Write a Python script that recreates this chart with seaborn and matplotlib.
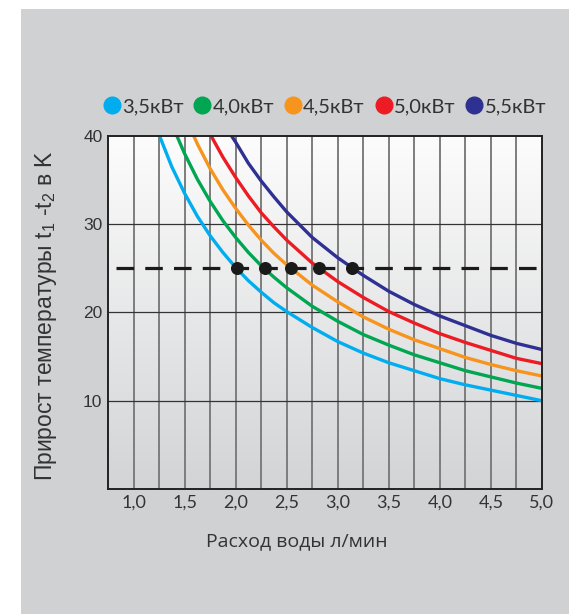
import numpy as np
import pandas as pd
import matplotlib.pyplot as plt
import seaborn as sns
from matplotlib.lines import Line2D
from matplotlib.patches import Rectangle

# Values (flow l/min -> temperature rise K)
labels = ['3,5кВт', '4,0кВт', '4,5кВт', '5,0кВт', '5,5кВт']
colors = ['#00aeef', '#00a651', '#f7941d', '#ed1c24', '#2e3192']

x_35 = [1.255, 1.375, 1.5, 1.625, 1.75, 1.875, 2.0, 2.125, 2.25, 2.375, 2.5, 2.75, 3.0, 3.25, 3.5, 3.75, 4.0, 4.25, 4.5, 4.75, 5.0]
y_35 = [40.0, 36.5, 33.5, 30.9, 28.7, 26.8, 25.1, 23.6, 22.3, 21.1, 20.1, 18.3, 16.7, 15.4, 14.3, 13.4, 12.5, 11.8, 11.2, 10.6, 10.0]

x_40 = [1.425, 1.5, 1.625, 1.75, 1.875, 2.0, 2.125, 2.25, 2.375, 2.5, 2.75, 3.0, 3.25, 3.5, 3.75, 4.0, 4.25, 4.5, 4.75, 5.0]
y_40 = [40.0, 38.0, 35.1, 32.6, 30.4, 28.5, 26.8, 25.3, 24.0, 22.8, 20.7, 19.0, 17.5, 16.3, 15.2, 14.3, 13.4, 12.7, 12.0, 11.4]

x_45 = [1.59, 1.625, 1.75, 1.875, 2.0, 2.125, 2.25, 2.375, 2.5, 2.75, 3.0, 3.25, 3.5, 3.75, 4.0, 4.25, 4.5, 4.75, 5.0]
y_45 = [40.0, 39.1, 36.3, 33.9, 31.8, 29.9, 28.2, 26.7, 25.4, 23.1, 21.2, 19.5, 18.1, 16.9, 15.9, 14.9, 14.1, 13.4, 12.8]

x_50 = [1.76, 1.875, 2.0, 2.125, 2.25, 2.375, 2.5, 2.75, 3.0, 3.25, 3.5, 3.75, 4.0, 4.25, 4.5, 4.75, 5.0]
y_50 = [40.0, 37.6, 35.3, 33.2, 31.3, 29.7, 28.2, 25.6, 23.5, 21.7, 20.1, 18.8, 17.6, 16.6, 15.7, 14.8, 14.2]

x_55 = [1.96, 2.0, 2.125, 2.25, 2.375, 2.5, 2.75, 3.0, 3.25, 3.5, 3.75, 4.0, 4.25, 4.5, 4.75, 5.0]
y_55 = [40.0, 39.3, 36.9, 34.9, 33.1, 31.4, 28.5, 26.2, 24.2, 22.4, 20.9, 19.6, 18.5, 17.4, 16.5, 15.8]

dot_x = [2.01, 2.29, 2.54, 2.82, 3.14]
dot_y = [25, 25, 25, 25, 25]
level = 25

x_ticks = [1.0, 1.5, 2.0, 2.5, 3.0, 3.5, 4.0, 4.5, 5.0]
x_ticklabels = ['1,0', '1,5', '2,0', '2,5', '3,0', '3,5', '4,0', '4,5', '5,0']
y_ticks = [10, 20, 30, 40]

curves = [(x_35, y_35), (x_40, y_40), (x_45, y_45), (x_50, y_50), (x_55, y_55)]
df = pd.concat([pd.DataFrame({'flow': xs, 'dt': ys, 'power': lab})
                for (xs, ys), lab in zip(curves, labels)], ignore_index=True)

sns.set_theme(style='white')
plt.rcParams['font.family'] = ['Liberation Sans', 'DejaVu Sans']
plt.rcParams['mathtext.fontset'] = 'custom'
plt.rcParams['mathtext.rm'] = 'Liberation Sans'

bg = '#d0d1d3'
fig = plt.figure(figsize=(5.69, 6.14), dpi=100, facecolor='white')
fig.patches.append(Rectangle((21 / 569, 0), 1, 1 - 9 / 614, transform=fig.transFigure,
                             facecolor=bg, edgecolor='none', zorder=-10))
ax = fig.add_axes([0.1898, 0.2036, 0.7627, 0.575])

# gradient background inside the plot area
grad = np.linspace(0, 1, 256).reshape(-1, 1)
top = np.array([0.827, 0.831, 0.839])
bottom = np.array([0.99, 0.99, 0.99])
img = top + (bottom - top) * grad[:, :, None]
ax.imshow(img, extent=[0.75, 5.0, 40, 0], aspect='auto', zorder=0)

# grid
for gx in np.arange(1.0, 5.0, 0.25):
    ax.axvline(gx, color='#7d7d7d', lw=1.4, zorder=1)
for gy in [10, 20, 30]:
    ax.axhline(gy, color='#333333', lw=0.9, zorder=1)

sns.lineplot(data=df, x='flow', y='dt', hue='power', palette=colors, lw=2.4,
             sort=False, estimator=None, legend=False, ax=ax, zorder=3)

ax.plot([0.83, 4.97], [level, level], color='#1a1a1a', lw=2.3, dashes=(5.5, 3.5), zorder=4)
ax.scatter(dot_x, dot_y, s=70, color='#1a1a1a', zorder=5)

ax.set_xlim(0.75, 5.0)
ax.set_ylim(0, 40)
ax.set_xticks(x_ticks)
ax.set_xticklabels(x_ticklabels, family='Lato', fontsize=13, color='#333333')
ax.set_yticks(y_ticks)
ax.set_yticklabels([str(v) for v in y_ticks], fontsize=12.5, color='#333333')
ax.tick_params(axis='both', length=0, pad=4)
for s in ax.spines.values():
    s.set_color('#222222')
    s.set_linewidth(1.4)
    s.set_zorder(6)

ax.set_xlabel('Расход воды л/мин', family='Open Sans', fontsize=14, color='#333333')
ax.xaxis.set_label_coords(0.435, -0.122)
ax.set_ylabel(r'Прирост температуры t$\mathregular{_1}$ -t$\mathregular{_2}$ в K',
              fontsize=16.5, color='#333333')
ax.yaxis.set_label_coords(-0.112, 0.49)

handles = [Line2D([], [], marker='o', ls='none', color=c, markersize=12) for c in colors]
fig.legend(handles, labels, loc='center', bbox_to_anchor=(0.569, 0.826), ncol=5,
           frameon=False, handletextpad=0.0, columnspacing=0.45, handlelength=1.0,
           prop={'family': 'Lato', 'size': 14.5}, labelcolor='#333333')

fig.savefig('out.png', dpi=100, facecolor='white')
